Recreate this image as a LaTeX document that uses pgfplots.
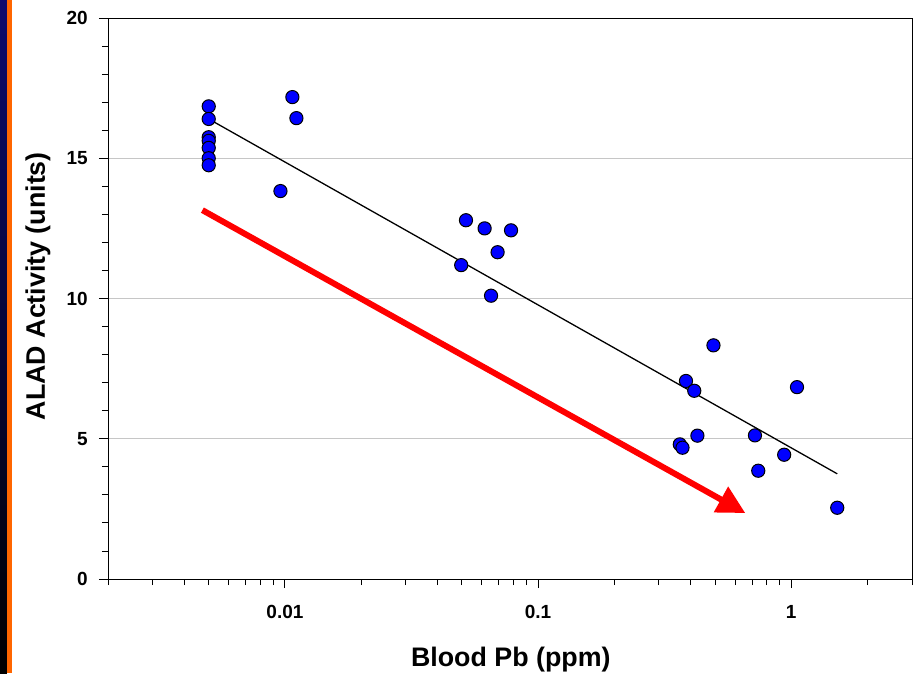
\documentclass[border=0pt]{standalone}
\usepackage{fontspec}
\setmainfont{Liberation Sans}
\usepackage{pgfplots}
\pgfplotsset{compat=1.18}
\usetikzlibrary{arrows.meta}

\definecolor{ptblue}{RGB}{0,0,255}
\definecolor{navy}{RGB}{12,10,110}
\definecolor{stripe}{RGB}{255,102,0}

\begin{document}
\begin{tikzpicture}
% fix the page to the reference size: axis box at (0,0)-(804,561)
\path[use as bounding box] (-108pt,-94pt) rectangle (814pt,579pt);
\shade[top color=navy, bottom color=black] (-108pt,-94pt) rectangle (-101pt,579pt);
\fill[stripe] (-101pt,-94pt) rectangle (-96pt,579pt);
\begin{axis}[
    at={(0pt,0pt)}, anchor=south west,
    scale only axis,
    width=804pt, height=561pt,
    xmode=log,
    xmin=0.002, xmax=3,
    ymin=0, ymax=20,
    xtick={0.01,0.1,1},
    xticklabels={0.01,0.1,1},
    minor xtick={0.002,0.003,0.004,0.005,0.006,0.007,0.008,0.009,
                 0.02,0.03,0.04,0.05,0.06,0.07,0.08,0.09,
                 0.2,0.3,0.4,0.5,0.6,0.7,0.8,0.9,2,3},
    ytick={0,5,10,15,20},
    minor y tick num=4,
    xtick pos=bottom, ytick pos=left,
    tick align=outside,
    major tick length=9pt, minor tick length=6pt,
    every tick/.style={black, line width=0.9pt},
    axis line style={black, line width=0.9pt},
    ymajorgrids,
    grid style={gray!45, line width=0.8pt},
    /pgf/number format/assume math mode=true,
    tick label style={font=\fontsize{19}{19}\selectfont\bfseries, inner sep=0pt},
    yticklabel style={anchor=east, xshift=-11pt},
    xticklabel style={anchor=north, yshift=-17pt},
    xlabel={Blood Pb (ppm)},
    ylabel={ALAD Activity (units)},
    label style={font=\fontsize{26.8}{26.8}\selectfont\bfseries, inner sep=0pt},
    xlabel style={at={(axis description cs:0.501,-0.1444)}, anchor=center},
    ylabel style={at={(axis description cs:-0.0871,0.522)}, anchor=center},
    clip=false,
]
% fitted line
\addplot[black, line width=1.3pt] coordinates {(0.005,16.4) (1.52,3.75)};
% red trend arrow
\draw[red, line width=6pt, -{Triangle[length=28pt,width=28pt]}]
    (axis cs:0.00472,13.15) -- (axis cs:0.659,2.35);
% measurements
\addplot[only marks, mark=*, mark size=6.6pt,
         mark options={fill=ptblue, draw=black, line width=1pt}] coordinates {
    (0.005,16.85) (0.005,16.4) (0.005,15.75) (0.005,15.62)
    (0.005,15.37) (0.005,15.0) (0.005,14.75)
    (0.0096,13.83) (0.0107,17.18) (0.0111,16.43)
    (0.0497,11.19) (0.0519,12.79) (0.0615,12.50) (0.0652,10.10)
    (0.0692,11.65) (0.0782,12.43)
    (0.363,4.80) (0.372,4.68) (0.384,7.06) (0.414,6.71) (0.426,5.11)
    (0.493,8.33) (0.719,5.12) (0.741,3.86) (0.938,4.43) (1.054,6.84)
    (1.52,2.54)
};
\end{axis}
\end{tikzpicture}
\end{document}
